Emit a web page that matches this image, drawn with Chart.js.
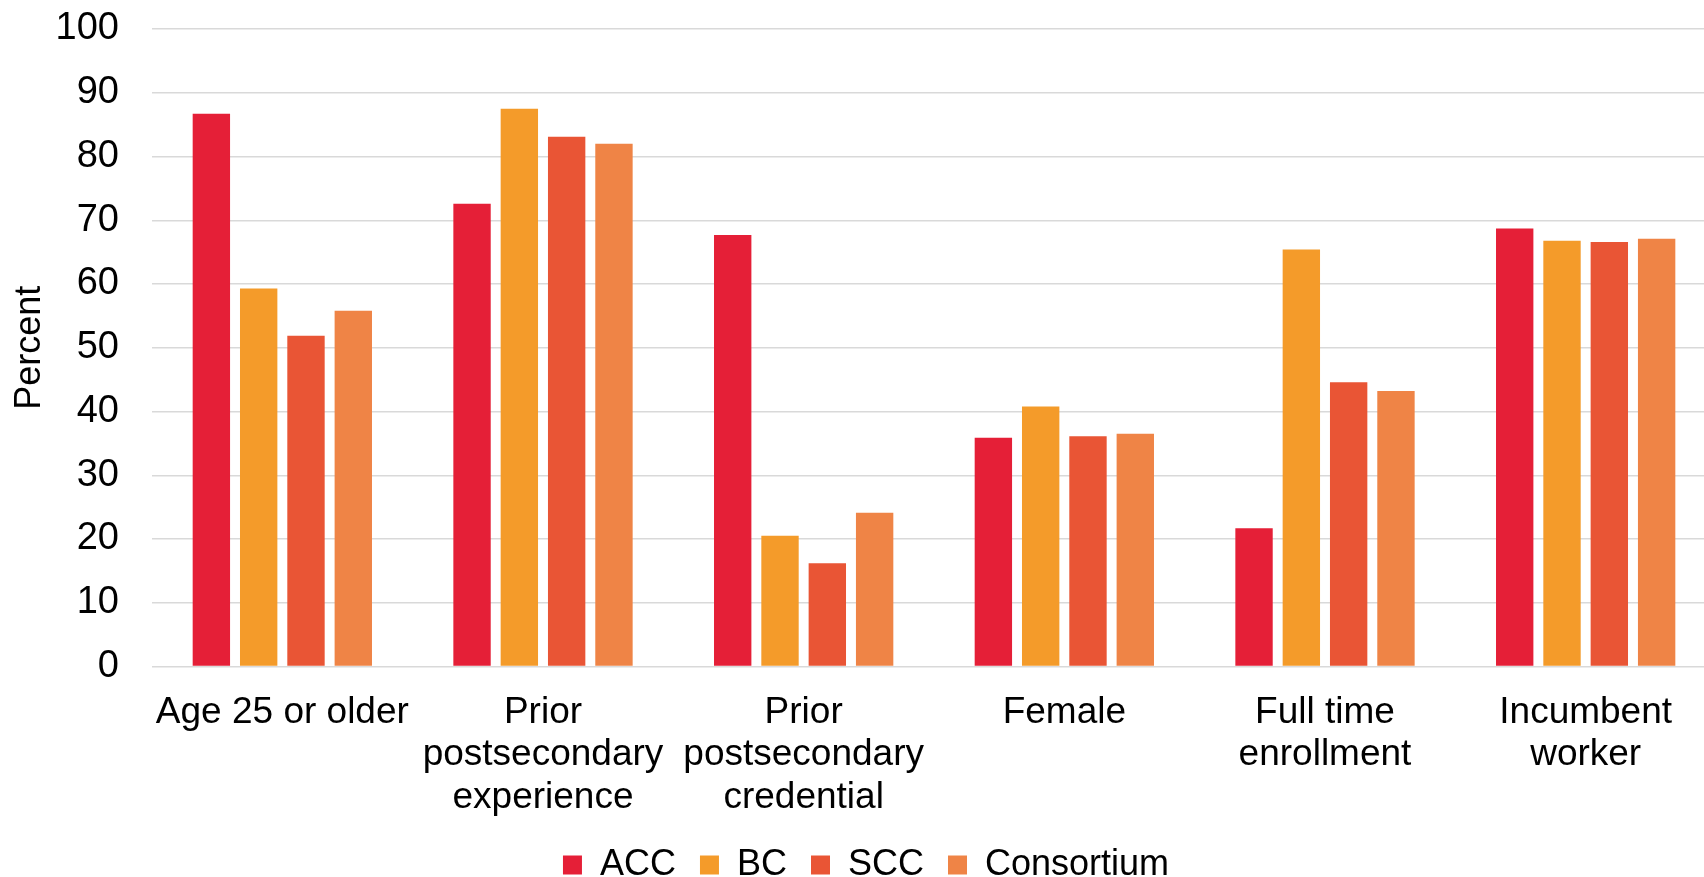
<!DOCTYPE html>
<html>
<head>
<meta charset="utf-8">
<script src="https://cdn.jsdelivr.net/npm/chart.js@4"></script>
<style>
  html, body { margin: 0; padding: 0; background: #fff; overflow: hidden; }
  /* plot runs a little past the right edge, like the original */
  #wrap { width: 1716px; height: 890px; position: relative; }
</style>
</head>
<body>
<div id="wrap"><canvas id="chart"></canvas></div>
<script>
// données
const categories = [
  "Age 25 or older",
  ["Prior", "postsecondary", "experience"],
  ["Prior", "postsecondary", "credential"],
  "Female",
  ["Full time", "enrollment"],
  ["Incumbent", "worker"]
];
const accValues = [86.7, 72.6, 67.7, 35.9, 21.7, 68.7];
const bcValues = [59.3, 87.5, 20.5, 40.8, 65.4, 66.8];
const sccValues = [51.9, 83.1, 16.2, 36.1, 44.6, 66.6];
const consortiumValues = [55.8, 82.0, 24.1, 36.5, 43.2, 67.1];
const yTicks = [0, 10, 20, 30, 40, 50, 60, 70, 80, 90, 100];

const FONT = "'Liberation Sans', Arial, sans-serif";

// petit décalage de la légende
const legendShift = {
  id: "legendShift",
  afterUpdate(chart) {
    const lg = chart.legend;
    if (lg) { lg.left += 8; lg.right += 8; lg.top += 3; lg.bottom += 3; }
  }
};

const ctx = document.getElementById("chart");

new Chart(ctx, {
  type: "bar",
  data: {
    labels: categories,
    datasets: [
      { label: "ACC", data: accValues, backgroundColor: "#E51F37" },
      { label: "BC", data: bcValues, backgroundColor: "#F49B2A" },
      { label: "SCC", data: sccValues, backgroundColor: "#E95535" },
      { label: "Consortium", data: consortiumValues, backgroundColor: "#EF8446" }
    ]
  },
  plugins: [legendShift],
  options: {
    responsive: true,
    maintainAspectRatio: false,
    animation: false,
    categoryPercentage: 0.726,
    barPercentage: 0.79,
    layout: { padding: { top: 29, right: 0, bottom: 0, left: 0 } },
    font: { family: FONT },
    scales: {
      x: {
        grid: { display: false, drawTicks: false },
        border: { display: false },
        afterFit: axis => { axis.height = 153.5; },
        ticks: {
          color: "#000",
          font: { family: FONT, size: 37, lineHeight: 1.146 },
          padding: 25,
          maxRotation: 0,
          autoSkip: false
        }
      },
      y: {
        min: 0,
        max: 100,
        afterFit: axis => {
          axis.width = 152;
          axis.paddingTop = 0;
          axis.paddingBottom = 0;
        },
        afterBuildTicks: axis => { axis.ticks = yTicks.map(v => ({ value: v })); },
        grid: { color: "#D9D9D9", lineWidth: 1.5, drawTicks: false },
        border: { display: false },
        ticks: {
          color: "#000",
          font: { family: FONT, size: 38 },
          padding: 33
        },
        title: {
          display: true,
          text: "Percent",
          color: "#000",
          font: { family: FONT, size: 36 },
          padding: { top: 8, bottom: 6 }
        }
      }
    },
    plugins: {
      tooltip: { enabled: false },
      legend: {
        position: "bottom",
        labels: {
          color: "#000",
          font: { family: FONT, size: 36 },
          boxWidth: 19,
          boxHeight: 19,
          padding: 24
        }
      }
    }
  }
});
</script>
</body>
</html>
